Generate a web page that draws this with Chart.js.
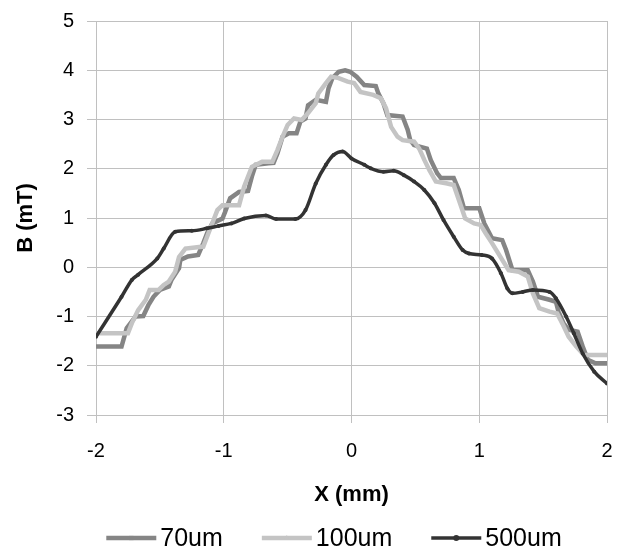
<!DOCTYPE html>
<html><head><meta charset="utf-8">
<script src="https://cdn.jsdelivr.net/npm/chart.js@4.4.1/dist/chart.umd.min.js"></script>
<style>html,body{margin:0;padding:0;background:#fff}#wrap{width:622px;height:552px;position:relative}</style>
</head><body><div id="wrap"><canvas id="c" width="622" height="552"></canvas></div>
<script>
const seriesNames = ['70um', '100um', '500um'];

const x70 = [-2.00,-1.80,-1.76,-1.69,-1.63,-1.59,-1.55,-1.50,-1.43,-1.41,-1.35,-1.34,-1.28,-1.20,-1.16,-1.13,-1.09,-1.01,-0.99,-0.95,-0.88,-0.81,-0.78,-0.75,-0.65,-0.61,-0.58,-0.54,-0.49,-0.43,-0.40,-0.36,-0.34,-0.28,-0.20,-0.18,-0.15,-0.10,-0.05,-0.01,0.04,0.10,0.19,0.21,0.25,0.28,0.40,0.44,0.46,0.49,0.59,0.62,0.67,0.70,0.80,0.84,0.88,0.98,1.00,1.04,1.10,1.18,1.21,1.26,1.38,1.42,1.46,1.55,1.60,1.62,1.66,1.70,1.77,1.81,1.85,1.91,2.00];
const y70 = [-1.61,-1.61,-1.24,-1.00,-0.99,-0.77,-0.60,-0.46,-0.39,-0.26,-0.02,0.15,0.22,0.25,0.49,0.69,0.89,0.99,1.12,1.40,1.53,1.55,1.84,2.08,2.11,2.12,2.31,2.65,2.72,2.72,2.96,3.02,3.29,3.40,3.36,3.63,3.84,3.97,4.00,3.97,3.87,3.70,3.68,3.53,3.33,3.09,3.06,2.79,2.58,2.48,2.41,2.18,1.91,1.81,1.81,1.57,1.20,1.20,1.20,0.89,0.59,0.55,0.35,-0.06,-0.06,-0.29,-0.60,-0.66,-0.70,-0.90,-1.14,-1.27,-1.31,-1.61,-1.88,-1.95,-1.95];

const x100 = [-2.00,-1.75,-1.72,-1.67,-1.61,-1.58,-1.51,-1.47,-1.43,-1.38,-1.35,-1.30,-1.16,-1.12,-1.08,-1.05,-1.01,-0.88,-0.84,-0.78,-0.70,-0.62,-0.58,-0.54,-0.50,-0.45,-0.39,-0.34,-0.28,-0.26,-0.20,-0.16,-0.10,-0.03,0.02,0.07,0.17,0.23,0.27,0.31,0.36,0.40,0.49,0.53,0.57,0.61,0.66,0.75,0.80,0.84,0.89,0.96,1.01,1.05,1.10,1.18,1.23,1.31,1.38,1.42,1.47,1.55,1.61,1.65,1.70,1.76,1.82,1.91,2.00];
const y100 = [-1.34,-1.34,-1.14,-0.87,-0.66,-0.46,-0.46,-0.36,-0.29,-0.09,0.21,0.38,0.42,0.69,0.96,1.16,1.26,1.26,1.64,2.04,2.14,2.14,2.38,2.65,2.89,3.02,2.99,3.13,3.33,3.53,3.74,3.87,3.84,3.77,3.74,3.56,3.50,3.43,3.23,2.85,2.65,2.58,2.55,2.41,2.18,1.97,1.74,1.70,1.67,1.37,0.99,0.89,0.86,0.69,0.49,0.15,-0.06,-0.09,-0.19,-0.53,-0.83,-0.90,-0.94,-1.14,-1.41,-1.61,-1.78,-1.78,-1.78];

const x500 = [-2.00,-1.80,-1.72,-1.67,-1.52,-1.47,-1.38,-1.25,-1.13,-1.04,-0.94,-0.84,-0.67,-0.59,-0.44,-0.36,-0.28,-0.20,-0.14,-0.07,0.00,0.10,0.15,0.25,0.33,0.41,0.49,0.57,0.65,0.72,0.80,0.87,0.92,1.02,1.10,1.17,1.22,1.26,1.34,1.42,1.55,1.60,1.68,1.74,1.81,1.90,2.00];
const y500 = [-1.41,-0.60,-0.26,-0.15,0.18,0.38,0.72,0.74,0.79,0.84,0.89,0.99,1.05,0.98,0.98,1.16,1.70,2.08,2.28,2.35,2.21,2.08,2.01,1.94,1.96,1.87,1.74,1.57,1.30,0.96,0.62,0.35,0.28,0.25,0.18,-0.12,-0.43,-0.53,-0.50,-0.46,-0.50,-0.63,-1.00,-1.34,-1.75,-2.12,-2.36];

const xTickValues = [-2, -1, 0, 1, 2];
const yTickValues = [-3, -2, -1, 0, 1, 2, 3, 4, 5];
const xTitle = 'X (mm)';
const yTitle = 'B (mT)';

const FONT = '"Liberation Sans", Arial, Helvetica, sans-serif';
const pts = (xs, ys) => xs.map((x, i) => ({x: x, y: ys[i]}));

const bottomLegend = {
  id: 'bottomLegend',
  afterDraw(chart) {
    const ctx = chart.ctx;
    ctx.save();
    ctx.font = '25px ' + FONT;
    const box = 50, gap = 4, itemGap = 39;
    const items = chart.data.datasets.map(d => ({d, w: ctx.measureText(d.label).width}));
    const total = items.reduce((s, it) => s + box + gap + it.w, 0) + itemGap * (items.length - 1);
    let x = 334 - total / 2;
    const y = 538;
    items.forEach(it => {
      const d = it.d;
      ctx.strokeStyle = d.borderColor;
      ctx.lineWidth = d.borderWidth;
      ctx.lineCap = 'butt';
      ctx.beginPath(); ctx.moveTo(x, y); ctx.lineTo(x + box, y); ctx.stroke();
      ctx.fillStyle = d.borderColor;
      Chart.helpers.drawPoint(ctx, {pointStyle: d.pointStyle, radius: 3, borderWidth: 0, rotation: 0}, x + box / 2, y);
      ctx.fillStyle = '#000';
      ctx.textBaseline = 'middle';
      ctx.textAlign = 'left';
      ctx.fillText(d.label, x + box + gap, y + 1);
      x += box + gap + it.w + itemGap;
    });
    ctx.restore();
  }
};

new Chart(document.getElementById('c'), {
  type: 'scatter',
  data: {
    datasets: [
      {label: seriesNames[0], data: pts(x70, y70), showLine: true, borderColor: '#858585', backgroundColor: '#858585',
       borderWidth: 4.5, pointStyle: 'rect', pointRadius: 2, pointBorderWidth: 0, order: 2},
      {label: seriesNames[1], data: pts(x100, y100), showLine: true, borderColor: '#c4c4c4', backgroundColor: '#c4c4c4',
       borderWidth: 4.5, pointStyle: 'triangle', pointRadius: 2, pointBorderWidth: 0, order: 1},
      {label: seriesNames[2], data: pts(x500, y500), showLine: true, borderColor: '#333333', backgroundColor: '#333333',
       borderWidth: 3.5, pointStyle: 'circle', pointRadius: 2, pointBorderWidth: 0, order: 0, cubicInterpolationMode: 'monotone'}
    ]
  },
  options: {
    responsive: false,
    devicePixelRatio: 1,
    animation: false,
    layout: {padding: {top: 21, right: 15, bottom: 40, left: 0}},
    plugins: {legend: {display: false}, tooltip: {enabled: false}},
    scales: {
      x: {
        type: 'linear', min: -2, max: 2,
        afterBuildTicks: s => { s.ticks = xTickValues.map(v => ({value: v})); },
        afterFit: s => { s.height = 97; s.paddingLeft = 0; s.paddingRight = 0; },
        ticks: {font: {size: 20, family: FONT}, color: '#000', padding: 16, maxRotation: 0},
        grid: {color: '#c0c0c0', lineWidth: 1, tickLength: 8, drawTicks: true},
        border: {color: '#c0c0c0'},
        title: {display: true, text: xTitle, color: '#000', font: {size: 22, weight: 'bold', family: FONT}, padding: {top: 0, bottom: 4}}
      },
      y: {
        type: 'linear', min: -3, max: 5,
        afterBuildTicks: s => { s.ticks = yTickValues.map(v => ({value: v})); },
        afterFit: s => { s.width = 96; s.paddingTop = 0; s.paddingBottom = 0; },
        ticks: {font: {size: 20, family: FONT}, color: '#000', padding: 13},
        grid: {color: '#c0c0c0', lineWidth: 1, tickLength: 9, drawTicks: true},
        border: {color: '#c0c0c0'},
        title: {display: true, text: yTitle, color: '#000', font: {size: 22, weight: 'bold', family: FONT}, padding: {top: 13, bottom: 0}}
      }
    }
  },
  plugins: [bottomLegend]
});
</script></body></html>
